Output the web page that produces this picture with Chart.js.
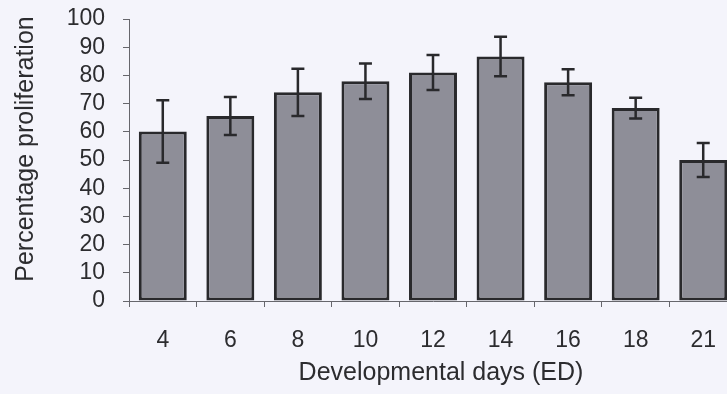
<!DOCTYPE html>
<html>
<head>
<meta charset="utf-8">
<script src="https://cdn.jsdelivr.net/npm/chart.js@4/dist/chart.umd.min.js"></script>
<style>
  html, body { margin: 0; padding: 0; overflow: hidden; background: #f4f4fb; }
  #wrap { width: 737px; height: 394px; }
</style>
</head>
<body>
<div id="wrap"><canvas id="chart" width="737" height="394"></canvas></div>
<script>
// Developmental day (ED) of each sample group
const days = ['4', '6', '8', '10', '12', '14', '16', '18', '21'];
// Mean percentage proliferation per day
const proliferation = [60.1, 65.6, 74.0, 77.9, 81.0, 86.7, 77.6, 68.4, 50.0];
// Error (+/-) for each mean
const errors = [11.1, 6.7, 8.4, 6.3, 6.2, 7.0, 4.6, 3.7, 6.0];
// Y axis tick values
const yTicks = [0, 10, 20, 30, 40, 50, 60, 70, 80, 90, 100];

const ink = '#29292c';
const textColor = '#2c2c2f';
const fontFamily = '"Liberation Sans", Arial, Helvetica, sans-serif';

// Error bars drawn from the data through the chart's own scales
const errorBars = {
  id: 'errorBars',
  afterDatasetsDraw(chart) {
    const ctx = chart.ctx;
    const x = chart.scales.x, y = chart.scales.y;
    ctx.save();
    ctx.strokeStyle = ink;
    ctx.lineWidth = 2.5;
    proliferation.forEach((v, i) => {
      const cx = x.getPixelForValue(i);
      const top = y.getPixelForValue(v + errors[i]);
      const bot = y.getPixelForValue(v - errors[i]);
      const half = 6.5;
      ctx.beginPath();
      ctx.moveTo(cx, top); ctx.lineTo(cx, bot);
      ctx.moveTo(cx - half, top); ctx.lineTo(cx + half, top);
      ctx.moveTo(cx - half, bot); ctx.lineTo(cx + half, bot);
      ctx.stroke();
    });
    ctx.restore();
  }
};

// Axis titles
const axisTitles = {
  id: 'axisTitles',
  afterDraw(chart) {
    const ctx = chart.ctx;
    const a = chart.chartArea;
    ctx.save();
    ctx.fillStyle = textColor;
    ctx.font = '25px ' + fontFamily;
    ctx.textAlign = 'center';
    ctx.textBaseline = 'middle';
    ctx.translate(26, (a.top + a.bottom) / 2 - 11);
    ctx.rotate(-Math.PI / 2);
    ctx.fillText('Percentage proliferation', 0, 0);
    ctx.restore();
    ctx.save();
    ctx.fillStyle = textColor;
    ctx.font = '25px ' + fontFamily;
    ctx.textAlign = 'center';
    ctx.textBaseline = 'alphabetic';
    ctx.fillText('Developmental days (ED)', (a.left + a.right) / 2 + 8, 380);
    ctx.restore();
  }
};

new Chart(document.getElementById('chart'), {
  type: 'bar',
  data: {
    labels: days,
    datasets: [{
      data: proliferation,
      backgroundColor: '#8e8e98',
      borderColor: ink,
      borderWidth: 3,
      borderSkipped: false,
      categoryPercentage: 1.0,
      barPercentage: 0.71
    }]
  },
  options: {
    responsive: false,
    animation: false,
    layout: { padding: { top: 19, left: 0, right: 0, bottom: 0 } },
    plugins: { legend: { display: false }, tooltip: { enabled: false } },
    scales: {
      x: {
        grid: { display: true, drawOnChartArea: false, drawTicks: true, tickLength: 6, color: '#66666c', lineWidth: 1, offset: true },
        border: { display: true, color: '#66666c', width: 1 },
        ticks: { color: textColor, font: { family: fontFamily, size: 23 }, padding: 20, maxRotation: 0, autoSkip: false },
        afterFit(scale) { scale.height = 93; scale.paddingLeft = 0; scale.paddingRight = 0; }
      },
      y: {
        min: 0,
        max: 100,
        afterBuildTicks(scale) { scale.ticks = yTicks.map(v => ({ value: v })); },
        grid: { display: true, drawOnChartArea: false, drawTicks: true, tickLength: 6, color: '#66666c', lineWidth: 1 },
        border: { display: true, color: '#66666c', width: 1 },
        ticks: { color: textColor, font: { family: fontFamily, size: 23 }, padding: 18, autoSkip: false },
        afterFit(scale) { scale.width = 129; scale.paddingTop = 0; scale.paddingBottom = 0; }
      }
    }
  },
  plugins: [errorBars, axisTitles]
});
</script>
</body>
</html>
